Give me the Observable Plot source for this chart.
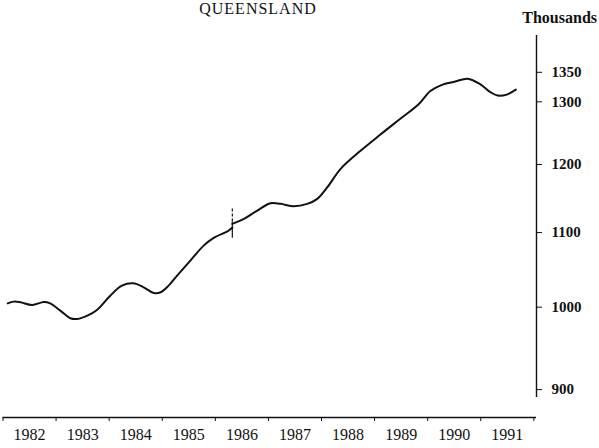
<!DOCTYPE html>
<html><head><meta charset="utf-8">
<script src="https://cdn.jsdelivr.net/npm/d3@7"></script>
<script src="https://cdn.jsdelivr.net/npm/@observablehq/plot@0.6"></script>
<style>
body{margin:0;background:#fff;}
#wrap{position:relative;width:599px;height:448px;overflow:hidden;font-family:"Liberation Serif","Times New Roman",serif;color:#111;}
#title{position:absolute;left:0;width:516px;text-align:center;top:1px;font-size:16px;line-height:16px;letter-spacing:1px;}
#units{position:absolute;right:2px;top:10px;font-size:16px;line-height:16px;font-weight:bold;}
#chart{position:absolute;left:0;top:0;}
</style></head><body>
<div id="wrap"><div id="chart"></div><div id="title">QUEENSLAND</div><div id="units">Thousands</div></div>
<script>
// Series before the break (population, thousands)
const yearsBefore = [1982.09,1982.20,1982.33,1982.55,1982.77,1982.89,1983.08,1983.27,1983.40,1983.59,1983.77,1984.02,1984.24,1984.46,1984.65,1984.84,1984.97,1985.12,1985.28,1985.53,1985.78,1985.97,1986.22,1986.29,1986.32];
const popBefore   = [1004.9,1007.1,1006.2,1002.9,1006.7,1004.9,995.6,985.9,985.1,989.3,996.5,1014.8,1027.9,1030.9,1025.7,1018.3,1019.2,1027.9,1041.1,1061.3,1081.8,1092.5,1101.4,1105.2,1107.0];
// Series after the break
const yearsAfter = [1986.32,1986.54,1986.79,1987.04,1987.23,1987.48,1987.73,1987.92,1988.11,1988.36,1988.74,1989.11,1989.49,1989.83,1990.05,1990.28,1990.52,1990.75,1991.00,1991.18,1991.32,1991.49,1991.66];
const popAfter   = [1112.3,1119.4,1131.3,1142.0,1141.1,1137.6,1141.1,1148.4,1165.6,1193.3,1221.5,1246.8,1272.5,1296.0,1318.0,1329.0,1334.1,1339.0,1329.0,1316.3,1310.4,1312.1,1320.5];
// Break marker
const breakYear = 1986.32;
const breakLow = 1092, breakMid = 1115, breakHigh = 1136;
// Axes
const yearTicks = [1982,1983,1984,1985,1986,1987,1988,1989,1990,1991,1992];
const yearLabels = [1982,1983,1984,1985,1986,1987,1988,1989,1990,1991];
const yTicks = [900,1000,1100,1200,1300,1350];
const xEnd = 1992.05;
const yFloor = 868.5, yAxisBottom = 891, yAxisTop = 1415;

const rows = [
  ...yearsBefore.map((t,i)=>({t, v: popBefore[i], s: "before"})),
  ...yearsAfter.map((t,i)=>({t, v: popAfter[i], s: "after"}))
];

const chart = Plot.plot({
  width: 599, height: 448,
  marginTop: 35, marginBottom: 31, marginLeft: 2.5, marginRight: 63,
  x: {domain: [1982, xEnd]},
  y: {type: "log", domain: [yFloor, yAxisTop]},
  style: {fontFamily: "Liberation Serif, Times New Roman, serif", background: "white", color: "#111", overflow: "visible"},
  marks: [
    Plot.ruleY([yFloor], {x1: 1982, x2: xEnd, stroke: "#111", strokeWidth: 1.4}),
    Plot.ruleX([xEnd], {y1: yAxisBottom, y2: yAxisTop, stroke: "#111", strokeWidth: 1.4}),
    Plot.axisX({ticks: yearTicks, tickSize: 4, tickFormat: () => "", label: null, stroke: "#111"}),
    Plot.axisX({ticks: yearLabels.map(d => d + 0.5), tickSize: 0, tickPadding: 11, tickFormat: d => String(Math.floor(d)), label: null, fontSize: 16}),
    Plot.axisY({anchor: "right", ticks: yTicks, tickSize: 5, tickPadding: 10, tickFormat: d => String(d), label: null, fontSize: 15, fontWeight: "bold", stroke: "#111"}),
    Plot.line(rows, {x: "t", y: "v", z: "s", stroke: "#111", strokeWidth: 2, curve: "catmull-rom"}),
    Plot.ruleX([breakYear], {y1: breakMid, y2: breakHigh, stroke: "#111", strokeWidth: 1.2, strokeDasharray: "3,2"}),
    Plot.ruleX([breakYear], {y1: breakLow, y2: breakMid, stroke: "#111", strokeWidth: 1.2})
  ]
});
document.getElementById("chart").appendChild(chart);
</script>
</body></html>
